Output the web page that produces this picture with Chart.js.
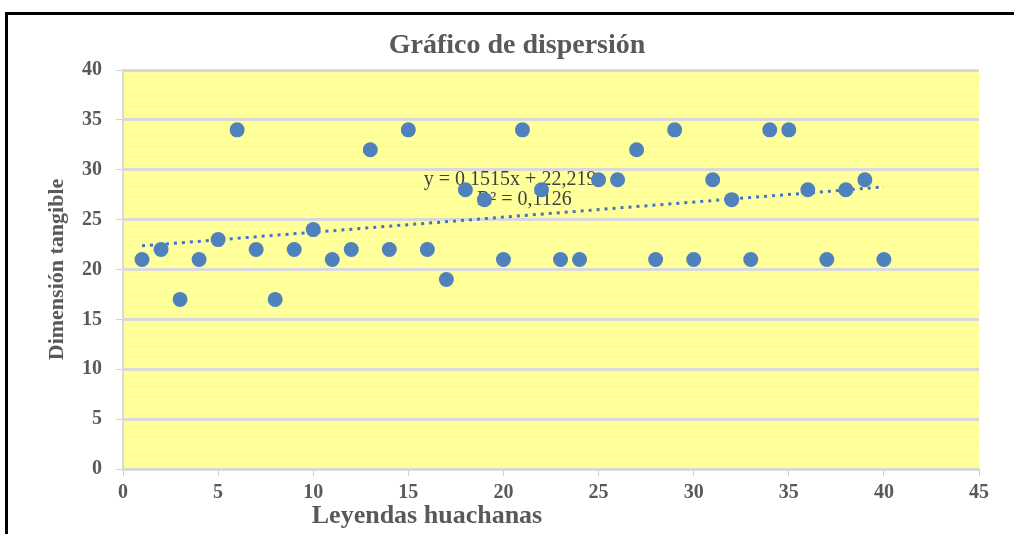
<!DOCTYPE html>
<html>
<head>
<meta charset="utf-8">
<script src="https://cdn.jsdelivr.net/npm/chart.js@4.4.0/dist/chart.umd.min.js"></script>
<style>
html,body{margin:0;padding:0;background:#fff;overflow:hidden;}
#wrap{position:relative;width:1014px;height:534px;}
#frame{position:absolute;left:5px;top:12px;right:0;bottom:0;border-top:3px solid #000;border-left:3px solid #000;pointer-events:none;}
canvas{position:absolute;left:0;top:0;}
</style>
</head>
<body>
<div id="wrap"><canvas id="c" width="1014" height="534"></canvas><div id="frame"></div></div>
<script>
const xValues = [1,2,3,4,5,6,7,8,9,10,11,12,13,14,15,16,17,18,19,20,21,22,23,24,25,26,27,28,29,30,31,32,33,34,35,36,37,38,39,40];
const yValues = [21,22,17,21,23,34,22,17,22,24,21,22,32,22,34,22,19,28,27,21,34,28,21,21,29,29,32,21,34,21,29,27,21,34,34,28,21,28,29,21];
const xTicks = [0,5,10,15,20,25,30,35,40,45];
const yTicks = [0,5,10,15,20,25,30,35,40];
const trendSlope = 0.1515;
const trendIntercept = 22.219;
const trendRange = [1, 40];
const equationLines = ['y = 0,1515x + 22,219', 'R² = 0,1126'];
const chartTitle = 'Gráfico de dispersión';
const xTitle = 'Leyendas huachanas';
const yTitle = 'Dimensión tangible';

const serif = '"Liberation Serif", "Times New Roman", serif';
const points = xValues.map((x, i) => ({x: x, y: yValues[i]}));
const trend = trendRange.map(x => ({x: x, y: trendIntercept + trendSlope * x}));

const bgPlugin = {
  id: 'bg',
  beforeDraw(chart) {
    const a = chart.chartArea, c = chart.ctx;
    c.save();
    c.fillStyle = '#FFFF99';
    c.fillRect(a.left, a.top, a.right - a.left, a.bottom - a.top);
    c.restore();
  }
};

const textPlugin = {
  id: 'texts',
  beforeDatasetsDraw(chart) {
    const c = chart.ctx, xs = chart.scales.x, ys = chart.scales.y;
    c.save();
    c.fillStyle = '#404040';
    c.font = 'normal 20px ' + serif;
    c.textAlign = 'center';
    c.textBaseline = 'middle';
    c.fillText(equationLines[0], xs.getPixelForValue(20.35), ys.getPixelForValue(29.0));
    c.fillText(equationLines[1], xs.getPixelForValue(21.1), ys.getPixelForValue(27.0));
    c.restore();
  },
  afterDraw(chart) {
    const c = chart.ctx;
    c.save();
    c.fillStyle = '#595959';
    c.textAlign = 'center';
    c.textBaseline = 'middle';
    c.font = 'bold 28px ' + serif;
    c.fillText(chartTitle, 517, 46);
    c.font = 'bold 26px ' + serif;
    c.fillText(xTitle, 427, 516);
    c.restore();
  }
};

const isMajor = v => yTicks.includes(v);

new Chart(document.getElementById('c'), {
  type: 'scatter',
  data: {
    datasets: [
      {
        label: yTitle,
        data: points,
        backgroundColor: '#4F81BD',
        borderColor: '#4F81BD',
        borderWidth: 0,
        pointRadius: 7.5,
        pointHoverRadius: 7.5,
        order: 1
      },
      {
        type: 'line',
        label: 'Tendencia',
        data: trend,
        borderColor: '#4472C4',
        borderWidth: 3,
        borderDash: [3, 5],
        pointRadius: 0,
        fill: false,
        order: 2
      }
    ]
  },
  options: {
    responsive: false,
    animation: false,
    devicePixelRatio: 1,
    layout: {padding: {left: 0, right: 35, top: 70, bottom: 0}},
    plugins: {
      legend: {display: false},
      tooltip: {enabled: false},
      title: {display: false}
    },
    scales: {
      x: {
        type: 'linear',
        min: 0,
        max: 45,
        afterFit(s) { s.height = 65; },
        grid: {drawOnChartArea: false, drawTicks: true, tickLength: 7, color: '#D0D0D0', tickWidth: 1},
        border: {color: '#D9D9D9', width: 2},
        ticks: {
          stepSize: 5,
          autoSkip: false,
          padding: 5,
          color: '#595959',
          font: {family: serif, size: 20, weight: 'bold'},
          callback: v => xTicks.includes(v) ? String(v) : ''
        }
      },
      y: {
        type: 'linear',
        min: 0,
        max: 40,
        afterFit(s) { s.width = 123; },
        grid: {
          drawTicks: true,
          tickLength: 7,
          color: ctx => (ctx.tick && isMajor(ctx.tick.value)) ? '#D9D9D9' : '#FFFFDD',
          lineWidth: ctx => (ctx.tick && isMajor(ctx.tick.value)) ? 3 : 1,
          tickColor: ctx => (ctx.tick && isMajor(ctx.tick.value)) ? '#D0D0D0' : 'rgba(0,0,0,0)',
          tickWidth: 1
        },
        border: {color: '#D9D9D9', width: 2},
        title: {
          display: true,
          text: yTitle,
          color: '#595959',
          font: {family: serif, size: 22, weight: 'bold'},
          padding: {top: 44, bottom: 0}
        },
        ticks: {
          stepSize: 1,
          autoSkip: false,
          padding: 14,
          color: '#595959',
          font: {family: serif, size: 20, weight: 'bold'},
          callback: v => isMajor(v) ? String(v) : ''
        }
      }
    }
  },
  plugins: [bgPlugin, textPlugin]
});
</script>
</body>
</html>
